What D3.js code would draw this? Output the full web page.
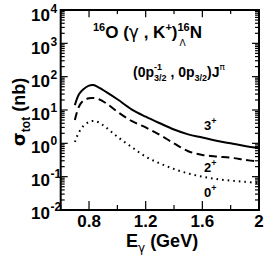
<!DOCTYPE html>
<html><head><meta charset="utf-8">
<script src="https://cdn.jsdelivr.net/npm/d3@7"></script>
<style>
html,body{margin:0;padding:0;background:#fff;}
svg{display:block;}
text{font-family:"Liberation Sans",Arial,Helvetica,sans-serif;font-weight:bold;fill:#000;white-space:pre;}
</style></head>
<body>
<svg id="c" width="265" height="257"></svg>
<script>
// ---- data ----
const energies = [0.70,0.73,0.76,0.80,0.83,0.87,0.92,1.0,1.1,1.2,1.3,1.4,1.5,1.6,1.7,1.8,1.9,2.0];
const sigma3plus = [14,30,42,54,56,47,35,21,10.5,6.3,4.0,2.6,1.86,1.5,1.2,1.0,0.83,0.71];
const sigma2plus = [5,13,19,22.5,23,21,16,8.9,4.7,3.0,1.78,1.0,0.58,0.45,0.40,0.37,0.32,0.28];
const sigma0plus = [1.1,2.2,3.3,4.4,4.7,4.2,3.0,1.58,0.78,0.40,0.25,0.17,0.125,0.10,0.085,0.076,0.07,0.064];
const xTickValues = [0.6,0.8,1.0,1.2,1.4,1.6,1.8,2.0];
const xTickLabels = ["0.8","1.2","1.6","2"];
const xLabelValues = [0.8,1.2,1.6,2.0];
const yExponents = [-2,-1,0,1,2,3,4];
const curveLabels = ["3","2","0"];

// ---- layout ----
const L=60.7, R=259, T=10, B=210;
const svg = d3.select("#c");
const x = d3.scaleLinear().domain([0.6,2.0]).range([L,R]);
const y = d3.scaleLog().domain([0.01,1e4]).range([B,T]);

const line = d3.line().x((d,i)=>x(energies[i])).y(d=>y(d)).curve(d3.curveCatmullRom.alpha(0.5));

svg.append("path").attr("d",line(sigma3plus)).attr("fill","none").attr("stroke","#000").attr("stroke-width",2);
svg.append("path").attr("d",line(sigma2plus)).attr("fill","none").attr("stroke","#000").attr("stroke-width",2).attr("stroke-dasharray","8,4.5");
svg.append("path").attr("d",line(sigma0plus)).attr("fill","none").attr("stroke","#000").attr("stroke-width",2).attr("stroke-dasharray","1.6,4").attr("stroke-linecap","butt");

// ticks
const tg = svg.append("g").attr("stroke","#000").attr("stroke-width",1.2);
xTickValues.forEach(v=>{
  const major = xLabelValues.includes(+v.toFixed(1));
  const len = major?9:5;
  tg.append("line").attr("x1",x(v)).attr("x2",x(v)).attr("y1",B).attr("y2",B-len);
  tg.append("line").attr("x1",x(v)).attr("x2",x(v)).attr("y1",T).attr("y2",T+len*0.8);
});
yExponents.forEach(e=>{
  const v = Math.pow(10,e);
  tg.append("line").attr("x1",L).attr("x2",L+7).attr("y1",y(v)).attr("y2",y(v));
  tg.append("line").attr("x1",R).attr("x2",R-7).attr("y1",y(v)).attr("y2",y(v));
  if(e<4){
    for(let m=2;m<=9;m++){
      const yy=y(m*v);
      tg.append("line").attr("x1",L).attr("x2",L+4).attr("y1",yy).attr("y2",yy);
      tg.append("line").attr("x1",R).attr("x2",R-4).attr("y1",yy).attr("y2",yy);
    }
  }
});
// frame
svg.append("rect").attr("x",L).attr("y",T).attr("width",R-L).attr("height",B-T)
  .attr("fill","none").attr("stroke","#000").attr("stroke-width",2);

// y tick labels
yExponents.forEach(e=>{
  const yy = y(Math.pow(10,e)) + 10 + 0.3*e;
  svg.append("text").attr("x",50).attr("y",yy).attr("text-anchor","end").style("font-size","17px").text("10");
  svg.append("text").attr("x",50.5).attr("y",yy-8.5).style("font-size","12px").text(String(e));
});
// x tick labels
xLabelValues.forEach((v,i)=>{
  svg.append("text").attr("x",x(v)).attr("y",227).attr("text-anchor","middle").style("font-size","17px").text(xTickLabels[i]);
});

// rich text helper: one text element, tspans with absolute positions
function rich(g, x0, y0, pieces, anchor){
  const grp = g.append("g");
  const txt = grp.append("text");
  let cx = x0, prevStart = x0, maxX = x0;
  pieces.forEach(p=>{
    if(p.back){ cx = prevStart + (p.shift||0); }
    const t = txt.append("tspan").attr("x",cx).attr("y",y0+(p.dy||0)).style("font-size",p.fs+"px").text(p.t);
    if(p.family) t.style("font-family",p.family).style("font-weight",p.weight||"normal");
    const w = t.node().getComputedTextLength();
    if(!p.back) prevStart = cx;
    cx += w + (p.gap||0);
    maxX = Math.max(maxX,cx);
    if(p.back) cx = maxX;
  });
  const W = maxX - x0;
  if(anchor==="middle") grp.attr("transform",`translate(${-W/2},0)`);
  if(anchor==="end") grp.attr("transform",`translate(${-W},0)`);
  return grp;
}

// title
rich(svg, 93, 38, [
  {t:"16",fs:11,dy:-7},
  {t:"O (",fs:17},
  {t:"γ",fs:17,family:"DejaVu Sans",weight:"normal"},
  {t:" , K",fs:17},
  {t:"+",fs:11,dy:-7},
  {t:")",fs:17},
  {t:"16",fs:11,dy:-7},
  {t:"Λ",fs:9,dy:8,back:true,shift:2,family:"DejaVu Sans",weight:"normal"},
  {t:"N",fs:17}
]);
// line 2
rich(svg, 133, 77, [
  {t:"(0p",fs:14},
  {t:"-1",fs:9,dy:-7},
  {t:"3/2",fs:9,dy:4,back:true},
  {t:" , 0p",fs:14},
  {t:"3/2",fs:9,dy:4},
  {t:")J",fs:14},
  {t:"π",fs:9,dy:-7,family:"DejaVu Sans",weight:"normal"}
]);

// curve labels
const labY = [130,171.5,196.5];
curveLabels.forEach((c,i)=>{
  rich(svg, 204, labY[i], [{t:c,fs:13},{t:"+",fs:9,dy:-6}]);
});

// x axis label
rich(svg, 126, 246.5, [
  {t:"E",fs:18},
  {t:"γ",fs:12,dy:5,family:"DejaVu Sans",weight:"normal"},
  {t:" (GeV)",fs:18}
]);

// y axis label
const yl = svg.append("g").attr("transform","translate(25,112) rotate(-90)");
rich(yl, 0, 0, [
  {t:"σ",fs:18,family:"DejaVu Sans",weight:"bold"},
  {t:"tot",fs:12,dy:5},
  {t:" (nb)",fs:18}
],"middle");
</script>
</body></html>
